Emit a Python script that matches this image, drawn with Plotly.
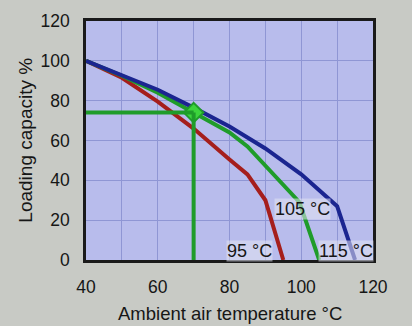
import plotly.graph_objects as go

# Derating curves: loading capacity vs ambient air temperature
temps_95 = [40, 50, 60, 70, 80, 85, 90, 95]
load_95 = [100, 91.5, 79.5, 66, 50.5, 43, 30, 0]

temps_105 = [40, 50, 60, 70, 80, 85, 99.5, 105]
load_105 = [100, 92.5, 84, 74, 64, 57, 29, 0]

temps_115 = [40, 50, 60, 70, 80, 90, 100, 110, 115]
load_115 = [100, 93, 85.5, 76.5, 67, 56, 43, 27, 0]

curve_labels = ["95 °C", "105 °C", "115 °C"]
label_x = [85.5, 100.4, 112.5]
label_y = [4.5, 25.6, 4.5]

# Reading example: 70 °C ambient -> 74 % loading on the 105 °C curve
read_temp = 70
read_load = 74
read_start = 37.8

x_ticks = [40, 50, 60, 70, 80, 90, 100, 110, 120]
x_ticktext = ["40", "", "60", "", "80", "", "100", "", "120"]
y_ticks = [0, 20, 40, 60, 80, 100, 120]

FONT = "Liberation Sans, Arial, sans-serif"
INK = "#161616"

fig = go.Figure()

fig.add_trace(go.Scatter(x=temps_95, y=load_95, mode="lines",
                         line=dict(color="#a51e1c", width=4), showlegend=False))
fig.add_trace(go.Scatter(x=temps_105, y=load_105, mode="lines",
                         line=dict(color="#1f9c2a", width=4), showlegend=False))
fig.add_trace(go.Scatter(x=temps_115, y=load_115, mode="lines",
                         line=dict(color="#1b2590", width=4), showlegend=False))

# Reading guide lines
fig.add_shape(type="line", xref="x", yref="y", x0=read_start, y0=read_load,
              x1=read_temp, y1=read_load, line=dict(color="#1f9c2a", width=4))
fig.add_shape(type="line", xref="x", yref="y", x0=read_temp, y0=read_load,
              x1=read_temp, y1=0, line=dict(color="#1f9c2a", width=4))

fig.add_trace(go.Scatter(x=[read_temp], y=[read_load], mode="markers",
                         marker=dict(symbol="diamond", size=15, color="#3cd43c",
                                     line=dict(color="#1f9c2a", width=2)),
                         cliponaxis=False, showlegend=False))

for txt, lx, ly in zip(curve_labels, label_x, label_y):
    fig.add_annotation(x=lx, y=ly, xref="x", yref="y", text=txt, showarrow=False,
                       font=dict(family=FONT, size=18, color=INK),
                       bgcolor="rgba(225,228,242,0.55)", borderpad=0)

# Axis titles
fig.add_annotation(x=0.5, y=-0.222, xref="paper", yref="paper",
                   text="Ambient air temperature °C", showarrow=False,
                   font=dict(family=FONT, size=18.5, color=INK),
                   xanchor="center", yanchor="middle")
fig.add_annotation(x=-0.212, y=0.5, xref="paper", yref="paper",
                   text="Loading capacity %", showarrow=False, textangle=-90,
                   font=dict(family=FONT, size=19, color=INK),
                   xanchor="center", yanchor="middle")

fig.update_layout(
    width=412, height=326,
    margin=dict(l=86, r=39, t=21, b=66),
    paper_bgcolor="#c8cac5",
    plot_bgcolor="#b8bcec",
    font=dict(family=FONT, size=17.5, color=INK),
    xaxis=dict(range=[40, 120], tickvals=x_ticks, ticktext=x_ticktext,
               showgrid=True, gridcolor="#8f96d4", gridwidth=1,
               zeroline=False, showline=True, linecolor="#1a1a1a", linewidth=2.5,
               mirror=True, ticks="", ticklabelstandoff=9),
    yaxis=dict(range=[0, 120], tickvals=y_ticks,
               showgrid=True, gridcolor="#8f96d4", gridwidth=1,
               zeroline=False, showline=True, linecolor="#1a1a1a", linewidth=2.5,
               mirror=True, ticks="", ticklabelstandoff=10),
)

fig.write_html("out.html")
